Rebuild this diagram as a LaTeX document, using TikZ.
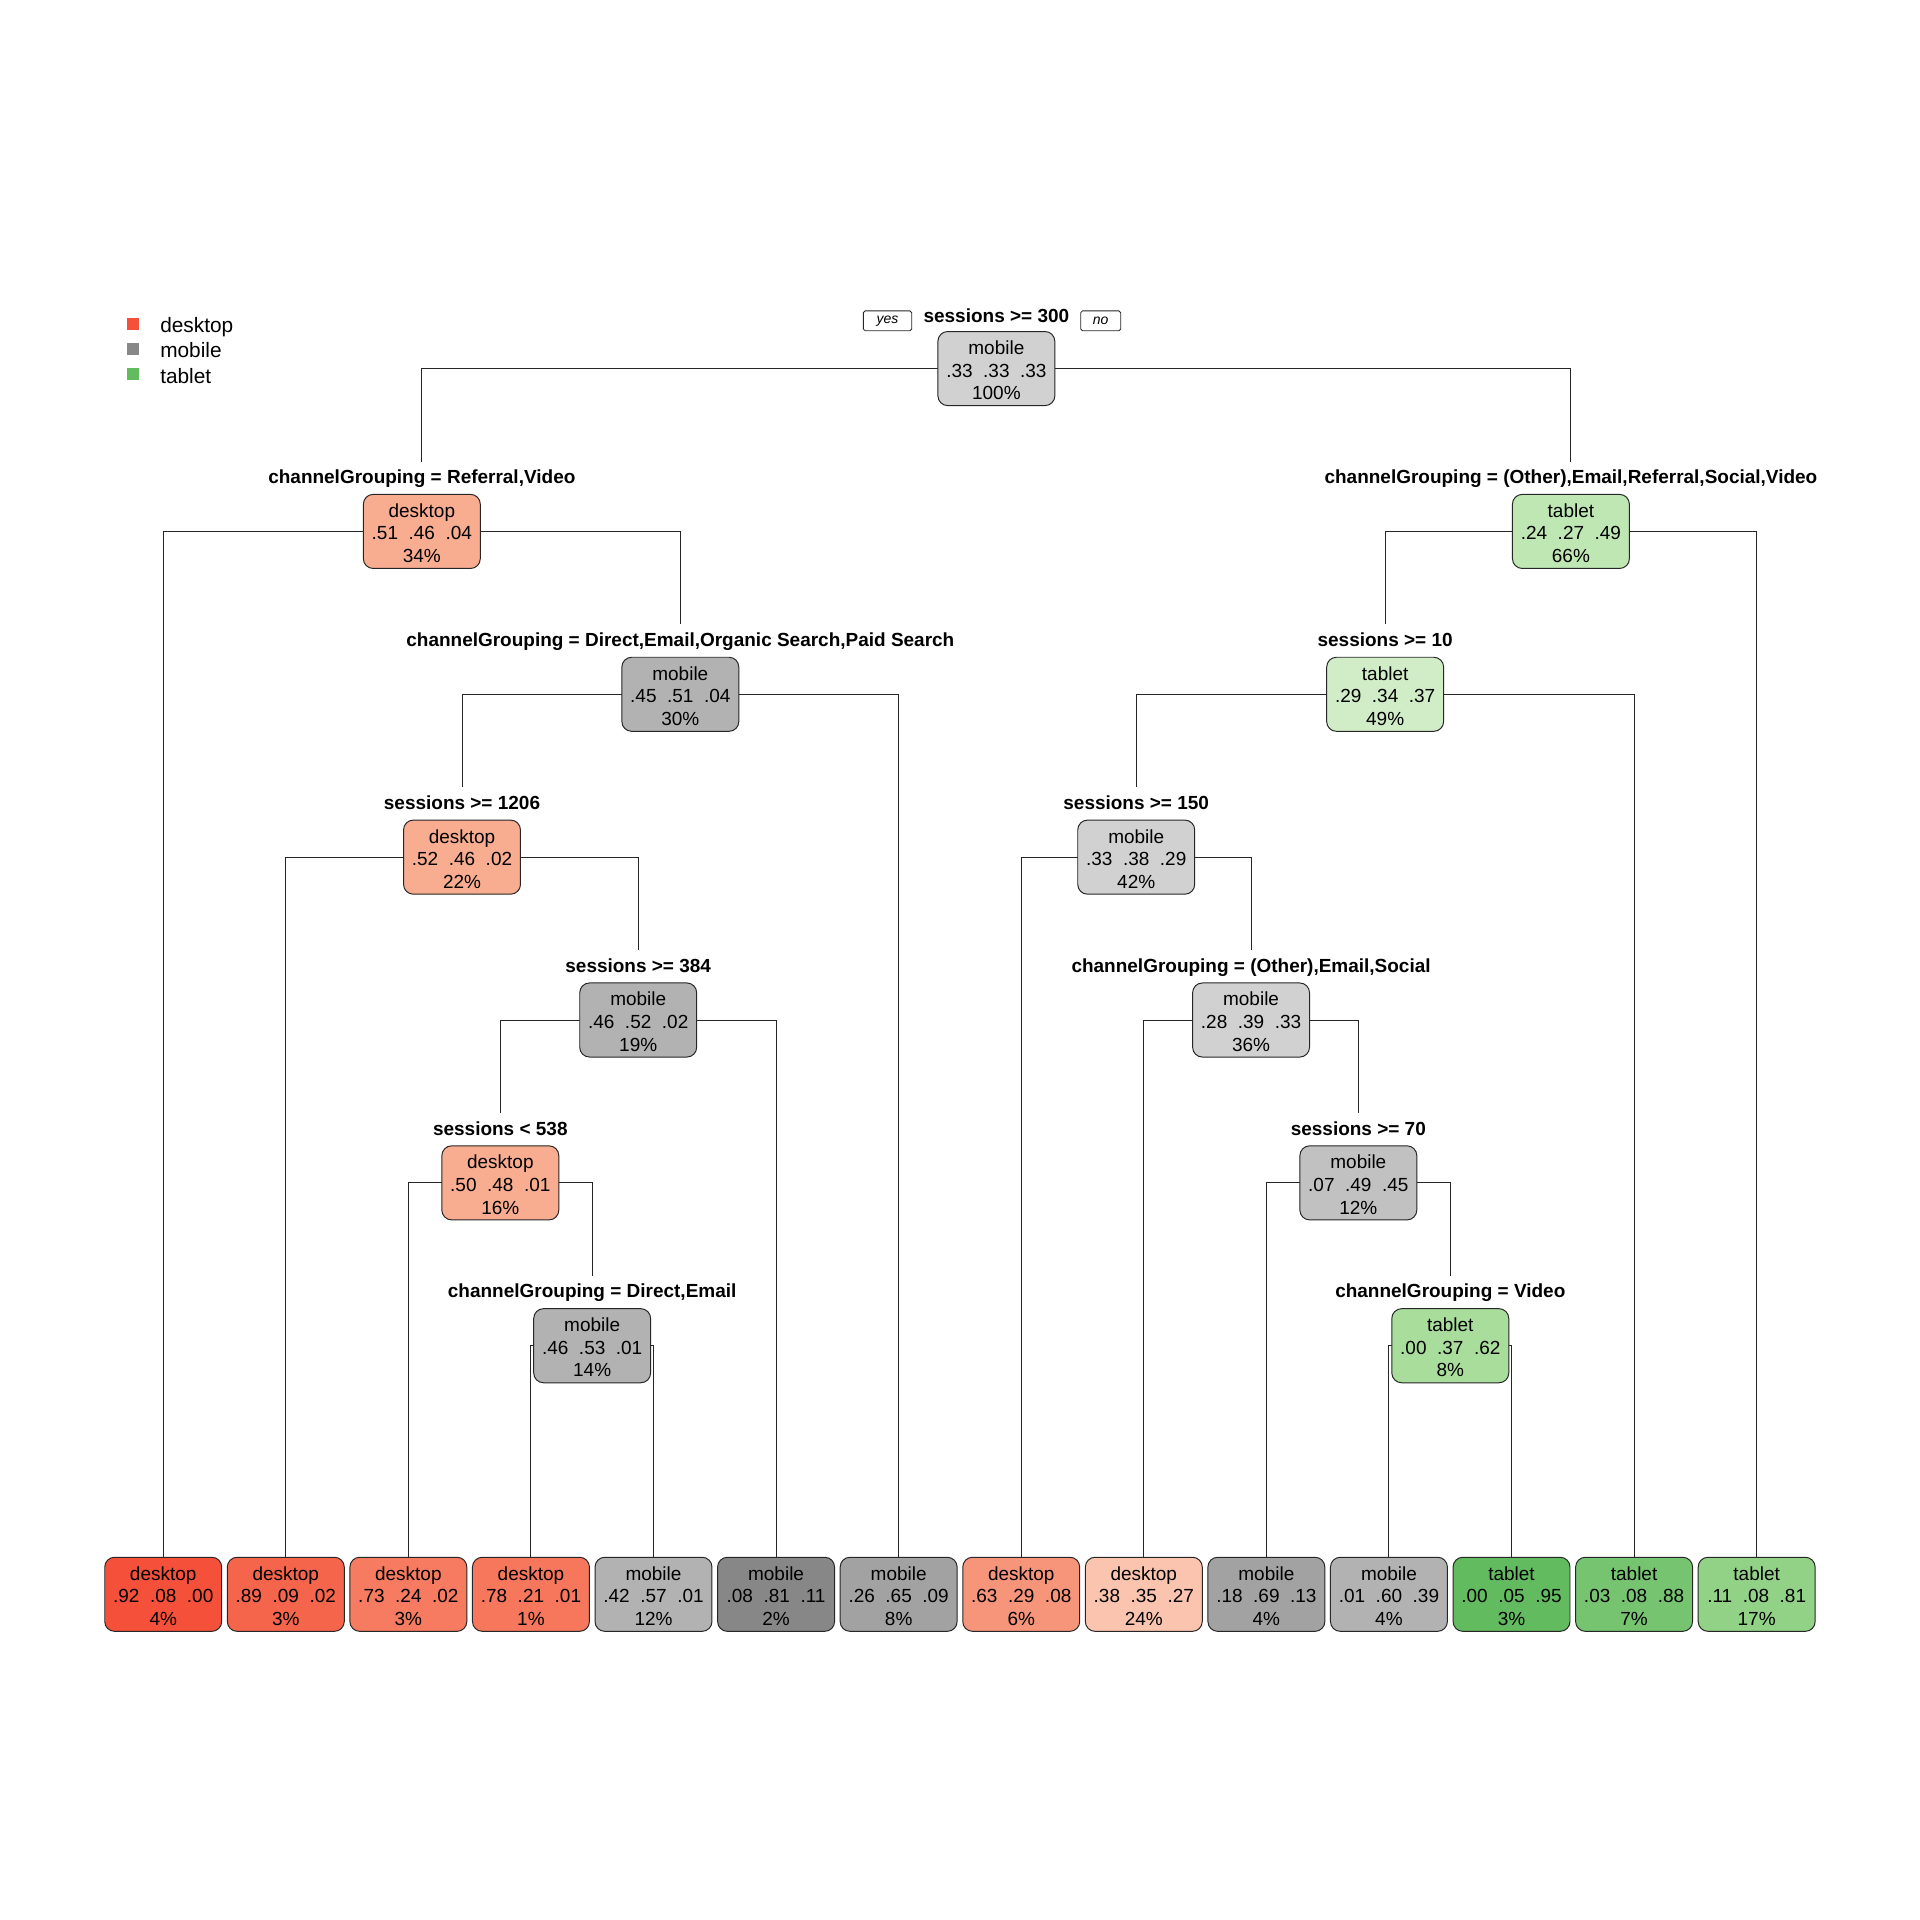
\documentclass[tikz,border=0pt]{standalone}
\usepackage{fontspec}
\setmainfont{Liberation Sans}
\usetikzlibrary{backgrounds}
\definecolor{gA}{HTML}{D1D1D1}
\definecolor{gB}{HTML}{B2B2B2}
\definecolor{gC}{HTML}{C1C1C1}
\definecolor{gD}{HTML}{A2A2A2}
\definecolor{gE}{HTML}{878787}
\definecolor{rA}{HTML}{F8AD91}
\definecolor{rB}{HTML}{F5503A}
\definecolor{rC}{HTML}{F4654C}
\definecolor{rD}{HTML}{F67B60}
\definecolor{rE}{HTML}{F6775B}
\definecolor{rF}{HTML}{F7957A}
\definecolor{rG}{HTML}{FBC4AE}
\definecolor{tA}{HTML}{BEE7B3}
\definecolor{tB}{HTML}{D0EDC7}
\definecolor{tC}{HTML}{A8DD9B}
\definecolor{tD}{HTML}{62BB5E}
\definecolor{tE}{HTML}{76C470}
\definecolor{tF}{HTML}{91D287}
\definecolor{legR}{HTML}{F4503A}
\definecolor{legG}{HTML}{888888}
\definecolor{legT}{HTML}{62BB5E}
\newcommand\gp{\hspace{0.556em}}
\newcommand\fs{\rule{0pt}{14.1pt}}
\begin{document}
\begin{tikzpicture}[x=1pt,y=-1pt,
  box/.style={draw=black!85, line width=0.8pt, rounded corners=8pt, minimum width=95.5pt, minimum height=60.5pt, inner sep=0pt, align=center, font=\fontsize{15.5}{18.5}\selectfont},
  lab/.style={font=\bfseries\fontsize{15.5}{18}\selectfont, anchor=base, inner sep=0pt},
  yn/.style={draw=black!85, line width=0.7pt, rounded corners=1.5pt, minimum height=16.3pt, inner sep=0pt, font=\itshape\fontsize{11.4}{12}\selectfont},
  edge/.style={line width=0.8pt, black!85},
  legsq/.style={minimum size=10pt, inner sep=0pt},
  legtx/.style={anchor=base west, inner sep=0pt, font=\fontsize{17}{20}\selectfont}]
\useasboundingbox (0,0) rectangle (1568,1568);
% internal nodes
\node[box, fill=gA] (n0) at (813.7,301) {\fs mobile\\.33\gp.33\gp.33\\100\%};
\node[box, fill=rA] (n1) at (344.5,434) {\fs desktop\\.51\gp.46\gp.04\\34\%};
\node[box, fill=tA] (n2) at (1282.9,434) {\fs tablet\\.24\gp.27\gp.49\\66\%};
\node[box, fill=gB] (n3) at (555.6,567) {\fs mobile\\.45\gp.51\gp.04\\30\%};
\node[box, fill=tB] (n4) at (1131.2,567) {\fs tablet\\.29\gp.34\gp.37\\49\%};
\node[box, fill=rA] (n5) at (377.3,700) {\fs desktop\\.52\gp.46\gp.02\\22\%};
\node[box, fill=gA] (n6) at (927.9,700) {\fs mobile\\.33\gp.38\gp.29\\42\%};
\node[box, fill=gB] (n7) at (521.2,833) {\fs mobile\\.46\gp.52\gp.02\\19\%};
\node[box, fill=gA] (n8) at (1021.7,833) {\fs mobile\\.28\gp.39\gp.33\\36\%};
\node[box, fill=rA] (n9) at (408.6,966) {\fs desktop\\.50\gp.48\gp.01\\16\%};
\node[box, fill=gC] (n10) at (1109.3,966) {\fs mobile\\.07\gp.49\gp.45\\12\%};
\node[box, fill=gB] (n11) at (483.6,1099) {\fs mobile\\.46\gp.53\gp.01\\14\%};
\node[box, fill=tC] (n12) at (1184.4,1099) {\fs tablet\\.00\gp.37\gp.62\\8\%};
% split labels
\node[lab] (l0) at (813.7,263.5) {sessions >= 300};
\node[lab] (l1) at (344.5,395) {channelGrouping = Referral,Video};
\node[lab] (l2) at (1282.9,395) {channelGrouping = (Other),Email,Referral,Social,Video};
\node[lab] (l3) at (555.6,528) {channelGrouping = Direct,Email,Organic Search,Paid Search};
\node[lab] (l4) at (1131.2,528) {sessions >= 10};
\node[lab] (l5) at (377.3,661) {sessions >= 1206};
\node[lab] (l6) at (927.9,661) {sessions >= 150};
\node[lab] (l7) at (521.2,794) {sessions >= 384};
\node[lab] (l8) at (1021.7,794) {channelGrouping = (Other),Email,Social};
\node[lab] (l9) at (408.6,927) {sessions < 538};
\node[lab] (l10) at (1109.3,927) {sessions >= 70};
\node[lab] (l11) at (483.6,1060) {channelGrouping = Direct,Email};
\node[lab] (l12) at (1184.4,1060) {channelGrouping = Video};
% yes / no
\node[yn, minimum width=39.5pt] (yes) at (724.8,262) {yes};
\node[yn, minimum width=32.7pt] (no) at (898.9,262) {no};
% leaves
\node[box, fill=rB] (f0) at (133.3,1302) {\fs desktop\\.92\gp.08\gp.00\\4\%};
\node[box, fill=rC] (f1) at (233.4,1302) {\fs desktop\\.89\gp.09\gp.02\\3\%};
\node[box, fill=rD] (f2) at (333.5,1302) {\fs desktop\\.73\gp.24\gp.02\\3\%};
\node[box, fill=rE] (f3) at (433.6,1302) {\fs desktop\\.78\gp.21\gp.01\\1\%};
\node[box, fill=gB] (f4) at (533.7,1302) {\fs mobile\\.42\gp.57\gp.01\\12\%};
\node[box, fill=gE] (f5) at (633.8,1302) {\fs mobile\\.08\gp.81\gp.11\\2\%};
\node[box, fill=gD] (f6) at (733.9,1302) {\fs mobile\\.26\gp.65\gp.09\\8\%};
\node[box, fill=rF] (f7) at (834.0,1302) {\fs desktop\\.63\gp.29\gp.08\\6\%};
\node[box, fill=rG] (f8) at (934.1,1302) {\fs desktop\\.38\gp.35\gp.27\\24\%};
\node[box, fill=gD] (f9) at (1034.2,1302) {\fs mobile\\.18\gp.69\gp.13\\4\%};
\node[box, fill=gB] (f10) at (1134.3,1302) {\fs mobile\\.01\gp.60\gp.39\\4\%};
\node[box, fill=tD] (f11) at (1234.4,1302) {\fs tablet\\.00\gp.05\gp.95\\3\%};
\node[box, fill=tE] (f12) at (1334.5,1302) {\fs tablet\\.03\gp.08\gp.88\\7\%};
\node[box, fill=tF] (f13) at (1434.6,1302) {\fs tablet\\.11\gp.08\gp.81\\17\%};
% legend
\node[legsq, fill=legR] (sq1) at (108.6,264.3) {};
\node[legsq, fill=legG] (sq2) at (108.6,284.8) {};
\node[legsq, fill=legT] (sq3) at (108.6,305.3) {};
\node[legtx] (t1) at (130.7,271.8) {desktop};
\node[legtx] (t2) at (130.7,292.3) {mobile};
\node[legtx] (t3) at (130.7,312.8) {tablet};
% connectors
\begin{scope}[on background layer]
\draw[edge] (n0.center) -| ([yshift=57pt]n1.center);
\draw[edge] (n0.center) -| ([yshift=57pt]n2.center);
\draw[edge] (n1.center) -| (f0.north);
\draw[edge] (n1.center) -| ([yshift=57pt]n3.center);
\draw[edge] (n3.center) -| ([yshift=57pt]n5.center);
\draw[edge] (n3.center) -| (f6.north);
\draw[edge] (n5.center) -| (f1.north);
\draw[edge] (n5.center) -| ([yshift=57pt]n7.center);
\draw[edge] (n7.center) -| ([yshift=57pt]n9.center);
\draw[edge] (n7.center) -| (f5.north);
\draw[edge] (n9.center) -| (f2.north);
\draw[edge] (n9.center) -| ([yshift=57pt]n11.center);
\draw[edge] (n11.center) -| (f3.north);
\draw[edge] (n11.center) -| (f4.north);
\draw[edge] (n2.center) -| ([yshift=57pt]n4.center);
\draw[edge] (n2.center) -| (f13.north);
\draw[edge] (n4.center) -| ([yshift=57pt]n6.center);
\draw[edge] (n4.center) -| (f12.north);
\draw[edge] (n6.center) -| (f7.north);
\draw[edge] (n6.center) -| ([yshift=57pt]n8.center);
\draw[edge] (n8.center) -| (f8.north);
\draw[edge] (n8.center) -| ([yshift=57pt]n10.center);
\draw[edge] (n10.center) -| (f9.north);
\draw[edge] (n10.center) -| ([yshift=57pt]n12.center);
\draw[edge] (n12.center) -| (f10.north);
\draw[edge] (n12.center) -| (f11.north);
\end{scope}
\end{tikzpicture}
\end{document}
